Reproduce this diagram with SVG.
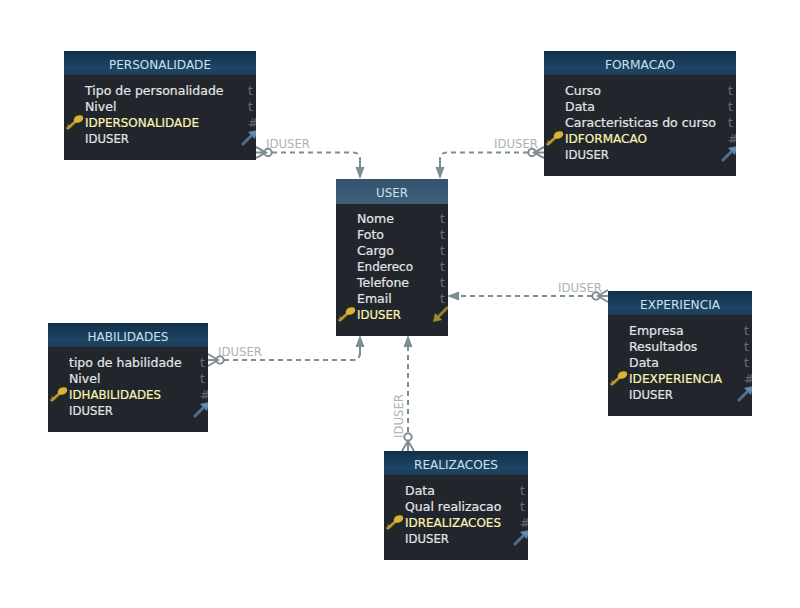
<svg xmlns="http://www.w3.org/2000/svg" width="800" height="608" viewBox="0 0 800 608">
<style>
text{font-family:"DejaVu Sans",sans-serif;font-size:12.5px}
.body{fill:#22252c}
.title{fill:#cfe0ea;text-anchor:middle;transform:translateY(.7px)}
.f{fill:#e2e6e6;stroke:#e2e6e6;stroke-width:.2;transform:translateY(.7px)}
.k{fill:#fbf5b4;stroke:#fbf5b4;stroke-width:.2;transform:translateY(.7px)}
.t{fill:#676c72;transform:translateY(.7px)}
.c{fill:none;stroke:#7f8c94;stroke-width:2;stroke-dasharray:5 4}
.s{fill:none;stroke:#7f8c94;stroke-width:2}
.a{fill:#7f8c94}
.l{fill:#a9b3ba;font-size:13px}
</style>
<defs>
<linearGradient id="hd" x1="0" y1="0" x2="0" y2="1"><stop offset="0" stop-color="#123049"/><stop offset="0.75" stop-color="#1d4667"/><stop offset="1" stop-color="#1d3c55"/></linearGradient>
<linearGradient id="hu" x1="0" y1="0" x2="0" y2="1"><stop offset="0" stop-color="#33526e"/><stop offset="1" stop-color="#3f5f7b"/></linearGradient>
<clipPath id="cp1"><rect x="64" y="51" width="192" height="109"/></clipPath>
<clipPath id="cp2"><rect x="544" y="51" width="192" height="125"/></clipPath>
<clipPath id="cp3"><rect x="336" y="179" width="112" height="157"/></clipPath>
<clipPath id="cp4"><rect x="608" y="291" width="144" height="125"/></clipPath>
<clipPath id="cp5"><rect x="48" y="323" width="160" height="109"/></clipPath>
<clipPath id="cp6"><rect x="384" y="451" width="144" height="109"/></clipPath>
<g id="key"><path d="M-8 7L1-1" stroke="#b9952a" stroke-width="3" fill="none"/><path d="M-7 3L-4.500 6" stroke="#b9952a" stroke-width="1.500" fill="none"/><ellipse cx="3.500" cy="-3" rx="5" ry="3.500" fill="#d9b437" transform="rotate(-25 3.500 -3)"/></g>
<g id="fk"><path d="M-7 7L5-5" stroke="#4f6f8f" stroke-width="3" fill="none"/><path d="M8-8L-1-6L6 1Z" fill="#6288ac"/></g>
<g id="pk"><path d="M7-7L-5 5" stroke="#95802a" stroke-width="3" fill="none"/><path d="M-8 8L-6-1L1 6Z" fill="#a08c2c"/></g>
</defs>

<g id="connectors">
<path class="c" d="M272 152.500H353Q360 152.500 360 160V168"/>
<path class="s" d="M360 158V170"/>
<path class="a" d="M360 179L355.500 167H364.500Z"/>
<path class="c" d="M528 152.500H447Q440 152.500 440 160V168"/>
<path class="s" d="M440 158V170"/>
<path class="a" d="M440 179L435.500 167H444.500Z"/>
<path class="c" d="M592 296H456"/>
<path class="a" d="M447 296L459 291.500V300.500Z"/>
<path class="c" d="M224 360H353Q360 360 360 353"/>
<path class="s" d="M360 355V345"/>
<path class="a" d="M360 335L355.500 347H364.500Z"/>
<path class="c" d="M408 432V345"/>
<path class="a" d="M408 335L403.500 347H412.500Z"/>
<g class="s">
<path d="M256 147L266 152.500L256 158M256 152.500H264"/><circle cx="268" cy="152.500" r="3.700"/>
<path d="M544 147L534 152.500L544 158M544 152.500H536"/><circle cx="532" cy="152.500" r="3.700"/>
<path d="M608 290L598 296L608 302M608 296H600"/><circle cx="596" cy="296" r="3.700"/>
<path d="M208 354L218 360L208 366M208 360H216"/><circle cx="220" cy="360" r="3.700"/>
<path d="M402 451L408 441L414 451M408 451V441"/><circle cx="408" cy="437" r="3.700"/>
</g>
<text class="l" x="266" y="148" textLength="44" lengthAdjust="spacingAndGlyphs">IDUSER</text>
<text class="l" x="494" y="148" textLength="44" lengthAdjust="spacingAndGlyphs">IDUSER</text>
<text class="l" x="558" y="292" textLength="44" lengthAdjust="spacingAndGlyphs">IDUSER</text>
<text class="l" x="218" y="356" textLength="44" lengthAdjust="spacingAndGlyphs">IDUSER</text>
<text class="l" transform="translate(403 438) rotate(-90)" textLength="44" lengthAdjust="spacingAndGlyphs">IDUSER</text>
</g>

<g id="personalidade" clip-path="url(#cp1)">
<rect class="body" x="64" y="51" width="192" height="109"/>
<rect x="64" y="51" width="192" height="24" fill="url(#hd)"/>
<text class="title" x="160" y="68" textLength="102" lengthAdjust="spacingAndGlyphs">PERSONALIDADE</text>
<text class="f" x="85" y="94">Tipo de personalidade</text><text class="t" x="248" y="94">t</text>
<text class="f" x="85" y="110">Nivel</text><text class="t" x="248" y="110">t</text>
<text class="k" x="85" y="126" textLength="114" lengthAdjust="spacingAndGlyphs">IDPERSONALIDADE</text><text class="t" x="248" y="126">#</text>
<text class="f" x="85" y="142" textLength="44" lengthAdjust="spacingAndGlyphs">IDUSER</text>
<use href="#key" x="75" y="122"/><use href="#fk" x="249" y="138"/>
</g>

<g id="formacao" clip-path="url(#cp2)">
<rect class="body" x="544" y="51" width="192" height="125"/>
<rect x="544" y="51" width="192" height="24" fill="url(#hd)"/>
<text class="title" x="640" y="68" textLength="70" lengthAdjust="spacingAndGlyphs">FORMACAO</text>
<text class="f" x="565" y="94">Curso</text><text class="t" x="728" y="94">t</text>
<text class="f" x="565" y="110">Data</text><text class="t" x="728" y="110">t</text>
<text class="f" x="565" y="126">Caracteristicas do curso</text><text class="t" x="728" y="126">t</text>
<text class="k" x="565" y="142" textLength="82" lengthAdjust="spacingAndGlyphs">IDFORMACAO</text><text class="t" x="728" y="142">#</text>
<text class="f" x="565" y="158" textLength="44" lengthAdjust="spacingAndGlyphs">IDUSER</text>
<use href="#key" x="555" y="138"/><use href="#fk" x="729" y="154"/>
</g>

<g id="user" clip-path="url(#cp3)">
<rect class="body" x="336" y="179" width="112" height="157"/>
<rect x="336" y="179" width="112" height="25" fill="url(#hu)"/>
<text class="title" x="392" y="196" textLength="32" lengthAdjust="spacingAndGlyphs">USER</text>
<text class="f" x="357" y="222">Nome</text><text class="t" x="440" y="222">t</text>
<text class="f" x="357" y="238">Foto</text><text class="t" x="440" y="238">t</text>
<text class="f" x="357" y="254">Cargo</text><text class="t" x="440" y="254">t</text>
<text class="f" x="357" y="270" textLength="56" lengthAdjust="spacingAndGlyphs">Endereco</text><text class="t" x="440" y="270">t</text>
<text class="f" x="357" y="286">Telefone</text><text class="t" x="440" y="286">t</text>
<text class="f" x="357" y="302">Email</text><text class="t" x="440" y="302">t</text>
<text class="k" x="357" y="318" textLength="44" lengthAdjust="spacingAndGlyphs">IDUSER</text>
<use href="#key" x="347" y="314"/><use href="#pk" x="441" y="314"/>
</g>

<g id="experiencia" clip-path="url(#cp4)">
<rect class="body" x="608" y="291" width="144" height="125"/>
<rect x="608" y="291" width="144" height="24" fill="url(#hd)"/>
<text class="title" x="680" y="308" textLength="80" lengthAdjust="spacingAndGlyphs">EXPERIENCIA</text>
<text class="f" x="629" y="334">Empresa</text><text class="t" x="744" y="334">t</text>
<text class="f" x="629" y="350">Resultados</text><text class="t" x="744" y="350">t</text>
<text class="f" x="629" y="366">Data</text><text class="t" x="744" y="366">t</text>
<text class="k" x="629" y="382" textLength="93" lengthAdjust="spacingAndGlyphs">IDEXPERIENCIA</text><text class="t" x="744" y="382">#</text>
<text class="f" x="629" y="398" textLength="44" lengthAdjust="spacingAndGlyphs">IDUSER</text>
<use href="#key" x="619" y="378"/><use href="#fk" x="745" y="394"/>
</g>

<g id="habilidades" clip-path="url(#cp5)">
<rect class="body" x="48" y="323" width="160" height="109"/>
<rect x="48" y="323" width="160" height="24" fill="url(#hd)"/>
<text class="title" x="128" y="340" textLength="81" lengthAdjust="spacingAndGlyphs">HABILIDADES</text>
<text class="f" x="69" y="366">tipo de habilidade</text><text class="t" x="200" y="366">t</text>
<text class="f" x="69" y="382">Nivel</text><text class="t" x="200" y="382">t</text>
<text class="k" x="69" y="398" textLength="92" lengthAdjust="spacingAndGlyphs">IDHABILIDADES</text><text class="t" x="200" y="398">#</text>
<text class="f" x="69" y="414" textLength="44" lengthAdjust="spacingAndGlyphs">IDUSER</text>
<use href="#key" x="59" y="394"/><use href="#fk" x="201" y="410"/>
</g>

<g id="realizacoes" clip-path="url(#cp6)">
<rect class="body" x="384" y="451" width="144" height="109"/>
<rect x="384" y="451" width="144" height="24" fill="url(#hd)"/>
<text class="title" x="456" y="468" textLength="84" lengthAdjust="spacingAndGlyphs">REALIZACOES</text>
<text class="f" x="405" y="494">Data</text><text class="t" x="520" y="494">t</text>
<text class="f" x="405" y="510">Qual realizacao</text><text class="t" x="520" y="510">t</text>
<text class="k" x="405" y="526" textLength="96" lengthAdjust="spacingAndGlyphs">IDREALIZACOES</text><text class="t" x="520" y="526">#</text>
<text class="f" x="405" y="542" textLength="44" lengthAdjust="spacingAndGlyphs">IDUSER</text>
<use href="#key" x="395" y="522"/><use href="#fk" x="521" y="538"/>
</g>
</svg>
